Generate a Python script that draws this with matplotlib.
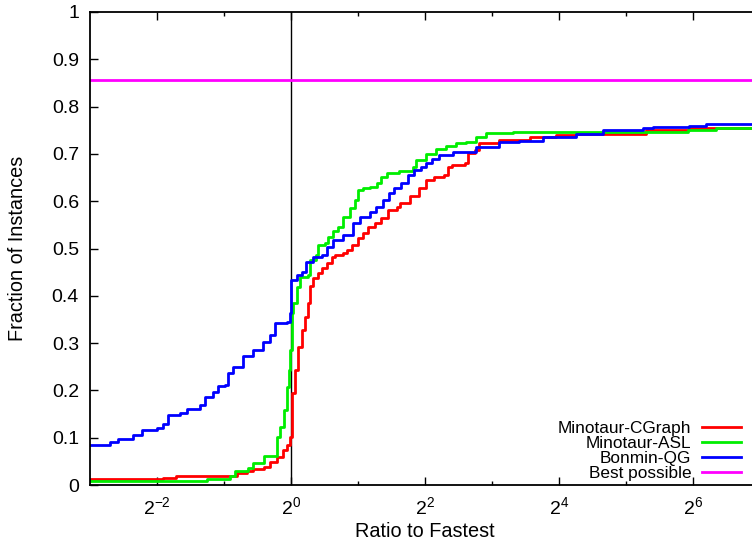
import matplotlib
matplotlib.use("Agg")
import matplotlib.pyplot as plt
import numpy as np
from matplotlib.ticker import FixedLocator, FuncFormatter

plt.rcParams['font.family'] = ['Liberation Sans', 'DejaVu Sans']
plt.rcParams['mathtext.fontset'] = 'custom'
plt.rcParams['mathtext.rm'] = 'Liberation Sans'

# performance profile data: log2(ratio to fastest), fraction of instances
cgraph_log2 = [-3.00, -1.91, -1.71, -0.81, -0.66, -0.57, -0.41, -0.31, -0.21, -0.12,
               -0.06, -0.01, 0.01, 0.02, 0.06, 0.11, 0.16, 0.21, 0.26, 0.28,
               0.33, 0.41, 0.46, 0.53, 0.61, 0.66, 0.78, 0.83, 0.91, 1.00,
               1.08, 1.15, 1.25, 1.35, 1.45, 1.58, 1.63, 1.77, 1.91, 2.01,
               2.14, 2.29, 2.34, 2.41, 2.59, 2.64, 2.74, 2.81, 3.03, 3.11,
               3.56, 3.96, 4.25, 5.30, 5.94, 7.00]
cgraph_frac = [0.012, 0.015, 0.018, 0.026, 0.030, 0.034, 0.039, 0.049, 0.060, 0.074,
               0.085, 0.102, 0.116, 0.194, 0.243, 0.292, 0.328, 0.356, 0.384, 0.420,
               0.437, 0.448, 0.458, 0.469, 0.483, 0.486, 0.490, 0.497, 0.507, 0.522,
               0.532, 0.546, 0.553, 0.564, 0.581, 0.588, 0.596, 0.610, 0.627, 0.645,
               0.652, 0.655, 0.673, 0.677, 0.680, 0.701, 0.708, 0.722, 0.724, 0.729,
               0.736, 0.740, 0.743, 0.750, 0.755, 0.757]

asl_log2 = [-3.00, -1.26, -0.91, -0.84, -0.64, -0.56, -0.41, -0.21, -0.16, -0.11,
            -0.06, -0.03, -0.01, 0.01, 0.03, 0.09, 0.13, 0.25, 0.28, 0.38,
            0.40, 0.51, 0.55, 0.63, 0.70, 0.78, 0.88, 0.96, 1.00, 1.07,
            1.18, 1.28, 1.35, 1.43, 1.61, 1.82, 1.87, 2.01, 2.16, 2.31,
            2.46, 2.61, 2.76, 2.91, 3.31, 5.92, 6.34, 7.00]
asl_frac = [0.008, 0.012, 0.018, 0.030, 0.036, 0.046, 0.061, 0.102, 0.123, 0.159,
            0.208, 0.243, 0.285, 0.363, 0.384, 0.419, 0.440, 0.444, 0.476, 0.486,
            0.507, 0.511, 0.525, 0.536, 0.546, 0.567, 0.585, 0.603, 0.624, 0.628,
            0.631, 0.638, 0.652, 0.659, 0.664, 0.673, 0.687, 0.700, 0.710, 0.717,
            0.722, 0.726, 0.736, 0.745, 0.747, 0.750, 0.755, 0.755]

qg_log2 = [-3.00, -2.70, -2.58, -2.36, -2.22, -2.00, -1.91, -1.84, -1.66, -1.55,
           -1.36, -1.28, -1.16, -1.09, -0.99, -0.94, -0.87, -0.72, -0.57, -0.42,
           -0.31, -0.24, -0.06, -0.01, 0.00, 0.09, 0.16, 0.23, 0.33, 0.46,
           0.53, 0.63, 0.78, 0.93, 1.03, 1.18, 1.27, 1.37, 1.46, 1.54,
           1.64, 1.74, 1.84, 1.94, 2.01, 2.11, 2.21, 2.42, 2.76, 3.10,
           3.40, 3.76, 4.25, 4.66, 5.25, 5.40, 5.94, 6.19, 7.00]
qg_frac = [0.085, 0.090, 0.097, 0.106, 0.116, 0.120, 0.130, 0.148, 0.152, 0.160,
           0.169, 0.187, 0.197, 0.209, 0.211, 0.236, 0.250, 0.273, 0.285, 0.303,
           0.317, 0.343, 0.345, 0.363, 0.433, 0.444, 0.451, 0.472, 0.483, 0.486,
           0.504, 0.518, 0.529, 0.554, 0.567, 0.578, 0.588, 0.603, 0.617, 0.628,
           0.638, 0.655, 0.666, 0.673, 0.680, 0.690, 0.698, 0.705, 0.715, 0.726,
           0.728, 0.736, 0.743, 0.750, 0.754, 0.757, 0.759, 0.763, 0.763]

best_possible = 0.856

fig = plt.figure(figsize=(7.52, 5.41), dpi=100)
ax = fig.add_axes([90 / 752, 56 / 541, 670 / 752, 473 / 541])

ax.axvline(1, color='black', lw=1.0, zorder=1)
ax.plot(2.0 ** np.array(cgraph_log2), cgraph_frac, drawstyle='steps-post',
        color='#ff0000', lw=2, label='Minotaur-CGraph')
ax.plot(2.0 ** np.array(asl_log2), asl_frac, drawstyle='steps-post',
        color='#00ee00', lw=2, label='Minotaur-ASL')
ax.plot(2.0 ** np.array(qg_log2), qg_frac, drawstyle='steps-post',
        color='#0000ff', lw=2, label='Bonmin-QG')
ax.axhline(best_possible, color='#ff00ff', lw=2, label='Best possible')

ax.set_xscale('log', base=2)
ax.set_xlim(2.0 ** -3, 2.0 ** 7)
ax.set_ylim(0, 1)

ax.xaxis.set_major_locator(FixedLocator([2.0 ** e for e in range(-2, 7, 2)]))
ax.xaxis.set_minor_locator(FixedLocator([2.0 ** e for e in range(-1, 7, 2)]))
ax.xaxis.set_major_formatter(FuncFormatter(
    lambda v, p: r'$\mathregular{2^{%d}}$' % round(np.log2(v))))
ax.xaxis.set_minor_formatter(FuncFormatter(lambda v, p: ''))
ax.set_yticks(np.arange(0, 1.01, 0.1))
ax.yaxis.set_major_formatter(FuncFormatter(lambda v, p: '%g' % round(v, 1)))

ax.tick_params(which='both', direction='in', top=True, right=True,
               labelsize=14, width=1, pad=8)
ax.tick_params(which='major', length=6)
ax.tick_params(which='minor', length=3)
for s in ax.spines.values():
    s.set_linewidth(1.3)

ax.set_xlabel('Ratio to Fastest', fontsize=14.3, labelpad=3)
ax.set_ylabel('Fraction of Instances', fontsize=14.3, labelpad=18)

ax.legend(loc='lower right', bbox_to_anchor=(0.9825, -0.006), frameon=False,
          markerfirst=False, fontsize=12.4, handlelength=2.3, handletextpad=0.6,
          labelspacing=0.0, borderaxespad=0.0)

fig.savefig('out.png', dpi=100)
